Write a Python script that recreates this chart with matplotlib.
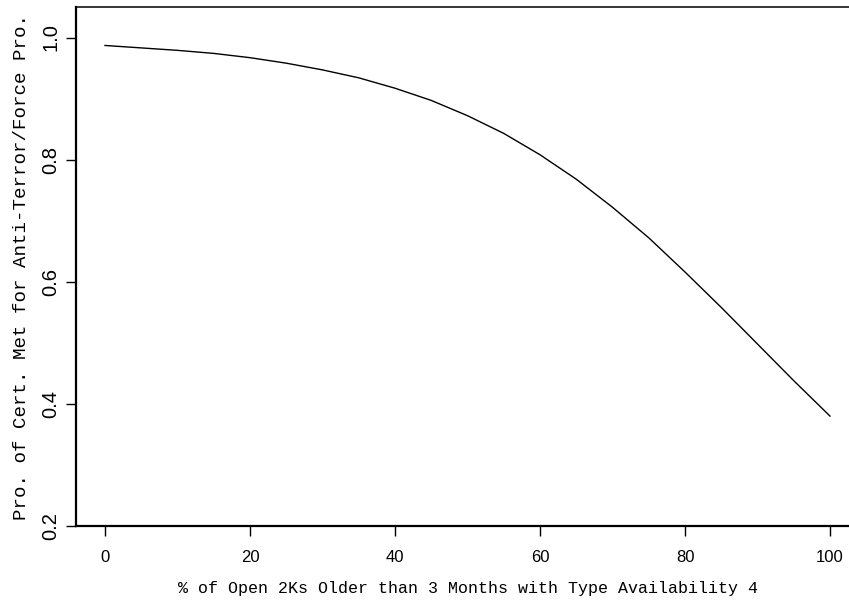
import numpy as np
import matplotlib
matplotlib.use('Agg')
import matplotlib.pyplot as plt

# values
pct_open = [0, 5, 10, 15, 20, 25, 30, 35, 40, 45, 50,
            55, 60, 65, 70, 75, 80, 85, 90, 95, 100]
prob_met = [0.987, 0.983, 0.979, 0.974, 0.967, 0.958, 0.947, 0.934, 0.917, 0.897, 0.872,
            0.843, 0.808, 0.768, 0.722, 0.672, 0.616, 0.558, 0.498, 0.438, 0.380]

x_ticks = [0, 20, 40, 60, 80, 100]
y_ticks = [0.2, 0.4, 0.6, 0.8, 1.0]

fig = plt.figure(figsize=(8.49, 6.04), dpi=100)
ax = fig.add_axes([76/849, 78/604, 783/849, 519/604])

ax.plot(pct_open, prob_met, color='black', lw=1.0)

ax.set_xlim(-4, 104)
ax.set_ylim(0.2, 1.05)

ax.set_xticks(x_ticks)
ax.set_xticklabels([str(v) for v in x_ticks], fontfamily='Liberation Sans', fontsize=12)
ax.set_yticks(y_ticks)
ax.set_yticklabels(['%.1f' % v for v in y_ticks], fontfamily='Liberation Sans', fontsize=14.5,
                   rotation=90, va='center')
ax.tick_params(axis='both', direction='out', length=7.5, width=1.0, color='black')
ax.tick_params(axis='x', pad=10)
ax.tick_params(axis='y', pad=4)

for side in ['left', 'bottom']:
    ax.spines[side].set_linewidth(1.6)
ax.spines['top'].set_linewidth(1.1)
ax.spines['right'].set_visible(False)

ax.set_xlabel('% of Open 2Ks Older than 3 Months with Type Availability 4',
              fontfamily='Liberation Mono', fontsize=12, labelpad=11)
ax.set_ylabel('Pro. of Cert. Met for Anti-Terror/Force Pro.',
              fontfamily='Liberation Mono', fontsize=13.8, labelpad=8)

fig.savefig('out.png', dpi=100)
